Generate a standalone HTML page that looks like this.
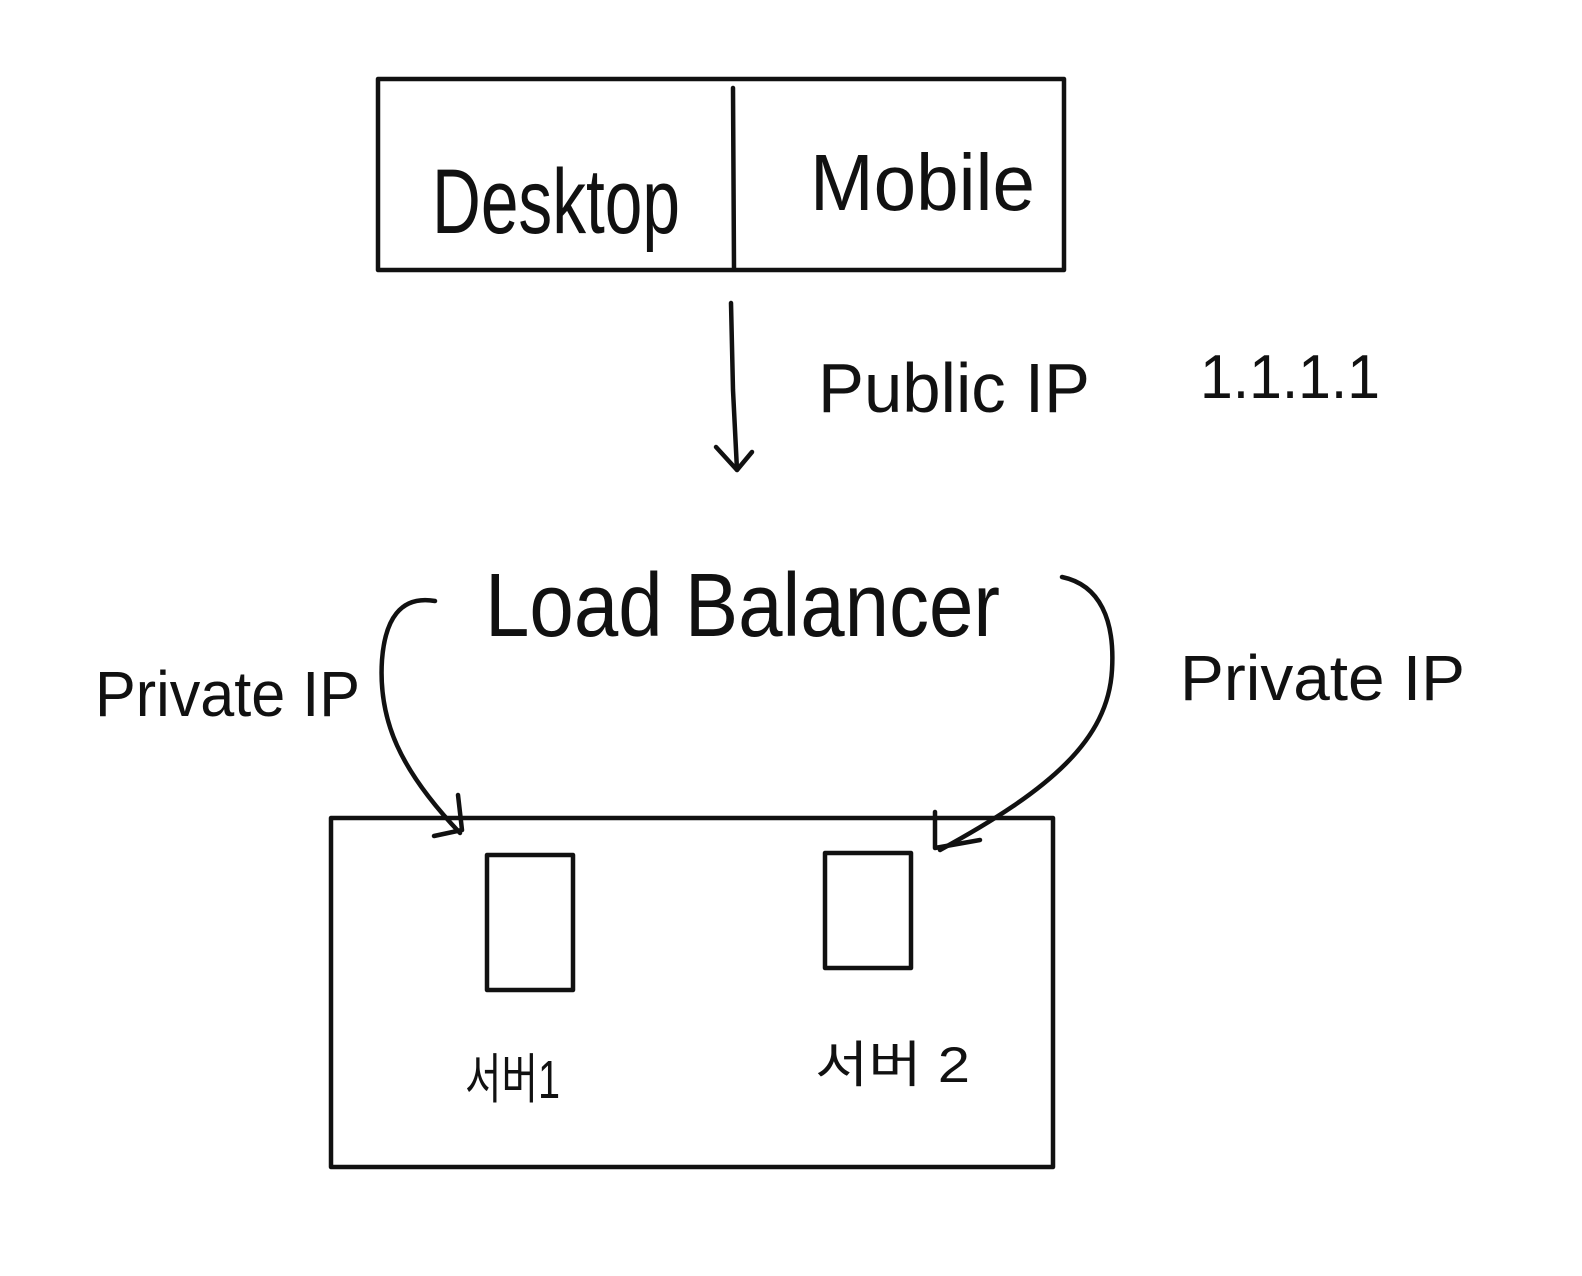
<!DOCTYPE html>
<html><head><meta charset="utf-8"><style>
html,body{margin:0;padding:0;background:#fff;}
svg{display:block;}
text{font-family:"Liberation Sans","Noto Sans CJK KR",sans-serif;fill:#111;}
</style></head><body>
<svg width="1582" height="1276" viewBox="0 0 1582 1276" xmlns="http://www.w3.org/2000/svg">
<g fill="none" stroke="#111" stroke-width="4.5" stroke-linecap="round" stroke-linejoin="round">
<rect x="378" y="79" width="686" height="191"/>
<line x1="733" y1="88" x2="734" y2="268"/>
<path d="M731 303 L733 390 L737 470"/>
<path d="M716 447 L737 470 L752 452"/>
<path d="M435 601 C400 595 385 620 382 660 C378 720 400 770 460 833"/>
<path d="M458 795 L462 830 L434 836"/>
<path d="M1062 577 C1100 585 1115 620 1112 670 C1108 740 1050 790 940 850"/>
<path d="M935 812 L935 848 L980 840"/>
<rect x="331" y="818" width="722" height="349"/>
<rect x="487" y="855" width="86" height="135"/>
<rect x="825" y="853" width="86" height="115"/>
</g>
<text x="432" y="233" font-size="92" textLength="248" lengthAdjust="spacingAndGlyphs">Desktop</text>
<text x="810" y="210" font-size="80" textLength="225" lengthAdjust="spacingAndGlyphs">Mobile</text>
<text x="818" y="412" font-size="70" textLength="272" lengthAdjust="spacingAndGlyphs">Public IP</text>
<text x="1200" y="398" font-size="62" textLength="180" lengthAdjust="spacingAndGlyphs">1.1.1.1</text>
<text x="485" y="636" font-size="90" textLength="515" lengthAdjust="spacingAndGlyphs">Load  Balancer</text>
<text x="95" y="716" font-size="64" textLength="265" lengthAdjust="spacingAndGlyphs">Private IP</text>
<text x="1180" y="700" font-size="64" textLength="285" lengthAdjust="spacingAndGlyphs">Private IP</text>
<text x="465" y="1098" font-size="54" textLength="95" lengthAdjust="spacingAndGlyphs">서버1</text>
<text x="815" y="1082" font-size="50" textLength="155" lengthAdjust="spacingAndGlyphs">서버 2</text>
</svg>
</body></html>
